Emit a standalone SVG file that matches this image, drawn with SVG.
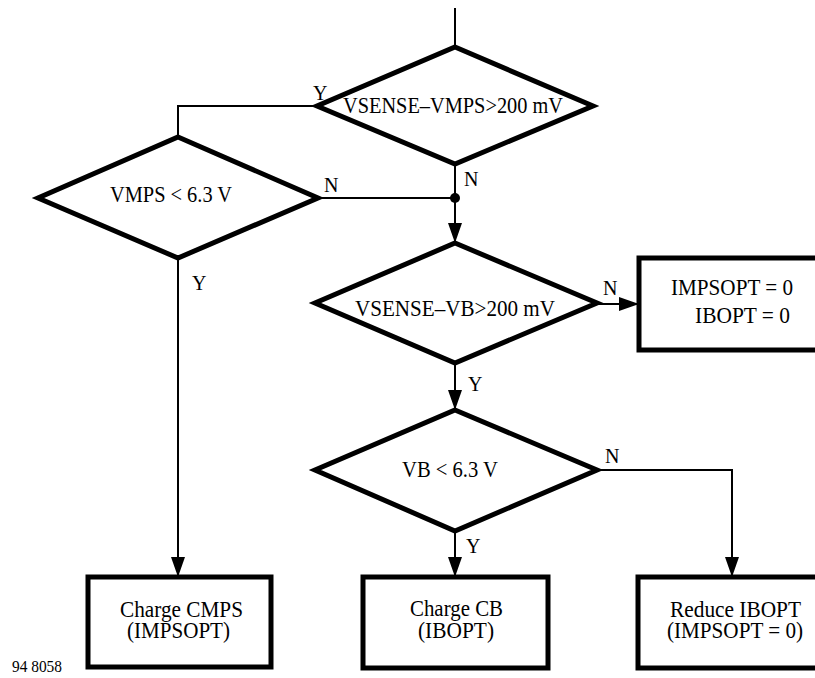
<svg xmlns="http://www.w3.org/2000/svg" width="815" height="678" viewBox="0 0 815 678">
<style>
.shape{fill:#fff;stroke:#000;stroke-width:5;stroke-linejoin:miter}
.conn{fill:none;stroke:#000;stroke-width:2}
.t{font-family:"Liberation Serif","Times New Roman",serif;font-size:24px;fill:#000}
.l{font-family:"Liberation Serif","Times New Roman",serif;font-size:20px;fill:#000}
.s{font-family:"Liberation Serif","Times New Roman",serif;font-size:17px;fill:#000}
</style>
<defs>
<marker id="arr" markerUnits="userSpaceOnUse" markerWidth="20" markerHeight="14" refX="20" refY="7" orient="auto">
<path d="M0,0 L20,7 L0,14 Z" fill="#000"/>
</marker>
</defs>
<g id="connectors">
<line class="conn" x1="455" y1="8" x2="455" y2="47"/>
<polyline class="conn" points="317,106 178,106 178,137"/>
<line class="conn" x1="455" y1="164" x2="455" y2="198"/>
<line class="conn" x1="318" y1="198" x2="455" y2="198"/>
<circle cx="455" cy="198" r="5" fill="#000"/>
<line class="conn" x1="455" y1="198" x2="455" y2="243" marker-end="url(#arr)"/>
<line class="conn" x1="178" y1="258" x2="178" y2="577" marker-end="url(#arr)"/>
<line class="conn" x1="597" y1="304" x2="639" y2="304" marker-end="url(#arr)"/>
<line class="conn" x1="455" y1="363" x2="455" y2="410" marker-end="url(#arr)"/>
<line class="conn" x1="455" y1="531" x2="455" y2="577" marker-end="url(#arr)"/>
<polyline class="conn" points="597,470 732,470 732,577" marker-end="url(#arr)"/>
<text class="l" x="313" y="100">Y</text>
<text class="l" x="324" y="192">N</text>
<text class="l" x="464" y="186">N</text>
<text class="l" x="192" y="290">Y</text>
<text class="l" x="603" y="295">N</text>
<text class="l" x="468" y="391">Y</text>
<text class="l" x="605" y="463">N</text>
<text class="l" x="466" y="553">Y</text>
</g>
<g id="d1">
<polygon class="shape" points="455,47 593,106 455,164 317,106"/>
<text class="t" x="343" y="113" textLength="220" lengthAdjust="spacingAndGlyphs">VSENSE–VMPS&gt;200 mV</text>
</g>
<g id="d2">
<polygon class="shape" points="178,137 318,198 178,258 38,198"/>
<text class="t" x="110" y="202" textLength="122" lengthAdjust="spacingAndGlyphs">VMPS &lt; 6.3 V</text>
</g>
<g id="d3">
<polygon class="shape" points="455,243 597,303 455,363 315,303"/>
<text class="t" x="355" y="316" textLength="200" lengthAdjust="spacingAndGlyphs">VSENSE–VB&gt;200 mV</text>
</g>
<g id="b1">
<rect class="shape" x="639" y="258" width="200" height="92"/>
<text class="t"><tspan x="671" y="295" textLength="122" lengthAdjust="spacingAndGlyphs">IMPSOPT = 0</tspan><tspan x="695" y="323" textLength="95" lengthAdjust="spacingAndGlyphs">IBOPT = 0</tspan></text>
</g>
<g id="d4">
<polygon class="shape" points="455,410 597,470 455,531 315,470"/>
<text class="t" x="402" y="477" textLength="96" lengthAdjust="spacingAndGlyphs">VB &lt; 6.3 V</text>
</g>
<g id="b2">
<rect class="shape" x="88" y="577" width="183" height="90"/>
<text class="t"><tspan x="120" y="617" textLength="123" lengthAdjust="spacingAndGlyphs">Charge CMPS</tspan><tspan x="127" y="638" textLength="103" lengthAdjust="spacingAndGlyphs">(IMPSOPT)</tspan></text>
</g>
<g id="b3">
<rect class="shape" x="363" y="577" width="185" height="91"/>
<text class="t"><tspan x="410" y="616" textLength="93" lengthAdjust="spacingAndGlyphs">Charge CB</tspan><tspan x="418" y="638" textLength="76" lengthAdjust="spacingAndGlyphs">(IBOPT)</tspan></text>
</g>
<g id="b4">
<rect class="shape" x="638" y="577" width="200" height="91"/>
<text class="t"><tspan x="670" y="617" textLength="131" lengthAdjust="spacingAndGlyphs">Reduce IBOPT</tspan><tspan x="667" y="638" textLength="136" lengthAdjust="spacingAndGlyphs">(IMPSOPT = 0)</tspan></text>
</g>
<text class="s" x="12" y="672" textLength="50" lengthAdjust="spacingAndGlyphs">94 8058</text>
</svg>
